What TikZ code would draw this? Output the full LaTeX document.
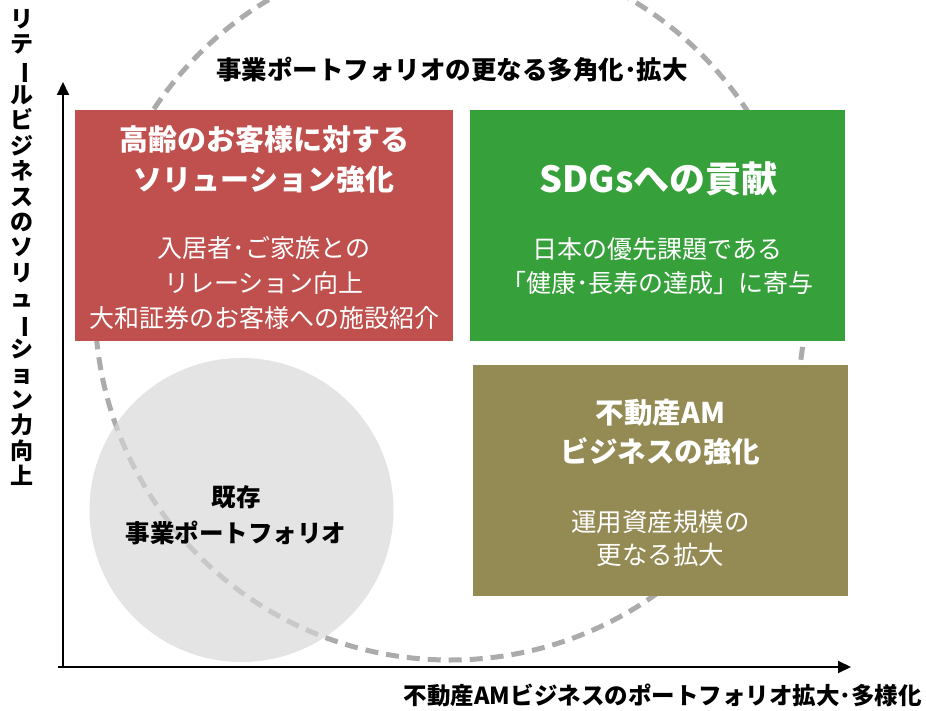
\documentclass[tikz,border=0pt]{standalone}
\usepackage{fontspec}
\usetikzlibrary{arrows.meta}
\newfontfamily\jp{Noto Sans CJK JP}
\definecolor{boxred}{HTML}{C0504D}
\definecolor{boxgreen}{HTML}{36A03A}
\definecolor{boxolive}{HTML}{948A54}
\definecolor{circgray}{HTML}{D7D7D7}
\definecolor{dashgray}{HTML}{ABABAB}
\newcommand{\vbar}{\rotatebox[origin=c]{-90}{ー}}
\begin{document}
\begin{tikzpicture}[x=1pt,y=-1pt,
  every node/.style={inner sep=0pt},
  quad/.style={minimum height=231pt},
  ttl/.style={align=center,text=white,font=\jp\bfseries\fontsize{29}{40}\selectfont},
  sub/.style={align=center,text=white,font=\jp\fontsize{25}{35}\selectfont},
  axis/.style={line width=2pt,-{Triangle[length=13pt,width=12pt]}},
  dashcirc/.style={draw=dashgray,line width=5pt,dash pattern=on 13pt off 8pt},
  lbl/.style={font=\jp\bfseries\fontsize{23.5}{25.4}\selectfont}]
\useasboundingbox (0,0) rectangle (926,711);
\clip (0,0) rectangle (926,711);

% dashed expansion circle
\draw[dashcirc] (450,305) circle (355);
% existing portfolio circle (semi-transparent, over the dashes)
\node[circle,fill=circgray,fill opacity=0.68,minimum size=304pt] (exist) at (241.5,510) {};

% boxes
\node[quad,fill=boxred,minimum width=378pt] (red) at (264,225.5) {};
\node[quad,fill=boxgreen,minimum width=375pt] (green) at (657.5,225.5) {};
\node[quad,fill=boxolive,minimum width=375pt] (olive) at (660.5,480.5) {};

% box texts
\node[ttl] (redT) at (264,160) {高齢のお客様に対する\\ソリューション強化};
\node[sub] (redS) at (264,283) {入居者･ご家族との\\リレーション向上\\大和証券のお客様への施設紹介};
\node[ttl,font=\jp\bfseries\fontsize{36}{40}\selectfont] (greenT) at (658.5,179) {SDGsへの貢献};
\node[sub,font=\jp\fontsize{25}{34}\selectfont] (greenS) at (657.5,266.5) {日本の優先課題である\\「健康･長寿の達成」に寄与};
\node[ttl,font=\jp\bfseries\fontsize{28.5}{39}\selectfont] (oliveT) at (660.5,432.5) {不動産AM\\ビジネスの強化};
\node[sub,font=\jp\fontsize{25.5}{33}\selectfont] (oliveS) at (660.5,538.5) {運用資産規模の\\更なる拡大};
\node[align=center,font=\jp\bfseries\fontsize{24.5}{36}\selectfont] (existT) at (236,515) {既存\\事業ポートフォリオ};

% top title
\node[font=\jp\bfseries\fontsize{25.5}{30}\selectfont] (title) at (452,70) {事業ポートフォリオの更なる多角化･拡大};

% axes
\coordinate (origin) at (63,667);
\coordinate (ytip) at (63,82);
\coordinate (xstart) at (58,667);
\coordinate (xtip) at (851,667);
\draw[axis] (63,668) -- (ytip);
\draw[axis] (xstart) -- (xtip);

% axis labels
\node[lbl,anchor=east] (xlab) at (922,695) {不動産AMビジネスのポートフォリオ拡大･多様化};
\node[lbl,align=center,anchor=north,font=\jp\bfseries\fontsize{23}{25.4}\selectfont] (ylab) at (22,9) {リ\\テ\\\vbar\\ル\\ビ\\ジ\\ネ\\ス\\の\\ソ\\リ\\ュ\\\vbar\\シ\\ョ\\ン\\力\\向\\上};
\end{tikzpicture}
\end{document}
